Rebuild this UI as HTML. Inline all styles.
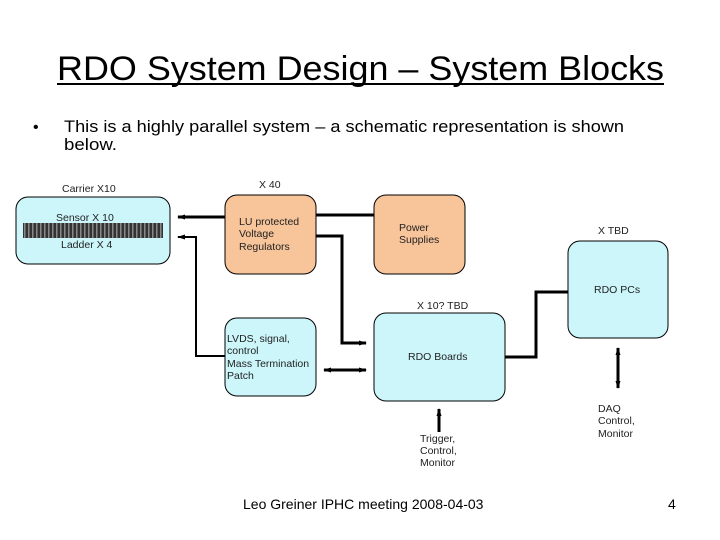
<!DOCTYPE html>
<html><head><style>body{margin:0;background:#fff}svg{display:block}text{font-family:"Liberation Sans",Arial,sans-serif}</style></head>
<body>
<svg width="720" height="540" viewBox="0 0 720 540" xmlns="http://www.w3.org/2000/svg">
<defs>
<marker id="a" markerWidth="8" markerHeight="8" refX="7" refY="4" orient="auto" markerUnits="userSpaceOnUse"><path d="M0,1.5 L8,4 L0,6.5z" fill="#000"/></marker>
<marker id="b" markerWidth="8" markerHeight="8" refX="1" refY="4" orient="auto" markerUnits="userSpaceOnUse"><path d="M8,1.5 L0,4 L8,6.5z" fill="#000"/></marker>
<pattern id="p" width="4" height="15" patternUnits="userSpaceOnUse"><rect width="4" height="15" fill="#333"/><rect width="1.5" height="15" fill="#888"/></pattern>
</defs>
<text x="57" y="80" font-size="34" textLength="607" lengthAdjust="spacingAndGlyphs">RDO System Design – System Blocks</text>
<rect x="57" y="83" width="607" height="2" fill="#000"/>
<text x="33" y="132" font-size="16">•</text>
<text x="64" y="132" font-size="17" textLength="560" lengthAdjust="spacingAndGlyphs">This is a  highly parallel system – a schematic representation is shown</text>
<text x="64" y="150" font-size="17" textLength="53" lengthAdjust="spacingAndGlyphs">below.</text>

<g stroke="#000" stroke-width="1">
<rect x="16" y="197" width="154" height="67" rx="12" fill="#ccf6fa"/>
<rect x="225" y="195" width="91" height="79" rx="12" fill="#f8c49a"/>
<rect x="374" y="195" width="91" height="79" rx="12" fill="#f8c49a"/>
<rect x="225" y="318" width="91" height="78" rx="12" fill="#ccf6fa"/>
<rect x="374" y="313" width="131" height="88" rx="12" fill="#ccf6fa"/>
<rect x="568" y="241" width="100" height="97" rx="12" fill="#ccf6fa"/>
</g>
<rect x="23" y="223" width="140" height="15" fill="url(#p)"/>

<g fill="none" stroke="#000" stroke-width="3">
<line x1="316" y1="215" x2="374" y2="215"/>
<line x1="225" y1="217" x2="178" y2="217" marker-end="url(#a)"/>
<polyline points="316,236 342,236 342,343 366,343" marker-end="url(#a)"/>
<line x1="324" y1="370" x2="366" y2="370" marker-start="url(#b)" marker-end="url(#a)"/>
<polyline points="505,357 536,357 536,292 568,292"/>
<line x1="439" y1="432" x2="439" y2="409" marker-end="url(#a)"/>
<line x1="618" y1="348" x2="618" y2="388" marker-start="url(#b)" marker-end="url(#a)"/>
</g>
<polyline points="225,356 196,356 196,237 178,237" fill="none" stroke="#000" stroke-width="2" marker-end="url(#a)"/>

<g font-size="10.5" fill="#222">
<text x="62" y="192">Carrier X10</text>
<text x="56" y="221">Sensor  X 10</text>
<text x="61" y="248">Ladder X 4</text>
<text x="259" y="188">X 40</text>
<text x="239" y="225">LU protected</text>
<text x="239" y="237">Voltage</text>
<text x="239" y="250">Regulators</text>
<text x="399" y="231">Power</text>
<text x="399" y="243">Supplies</text>
<text x="598" y="234">X TBD</text>
<text x="594" y="293">RDO PCs</text>
<text x="417" y="309">X 10? TBD</text>
<text x="408" y="360">RDO Boards</text>
<text x="227" y="342">LVDS, signal,</text>
<text x="227" y="354">control</text>
<text x="227" y="367">Mass Termination</text>
<text x="227" y="379">Patch</text>
<text x="598" y="412">DAQ</text>
<text x="598" y="424">Control,</text>
<text x="598" y="437">Monitor</text>
<text x="420" y="442">Trigger,</text>
<text x="420" y="454">Control,</text>
<text x="420" y="466">Monitor</text>
</g>
<text x="243" y="509" font-size="14">Leo Greiner IPHC meeting 2008-04-03</text>
<text x="668" y="509" font-size="14">4</text>
</svg>
</body></html>
